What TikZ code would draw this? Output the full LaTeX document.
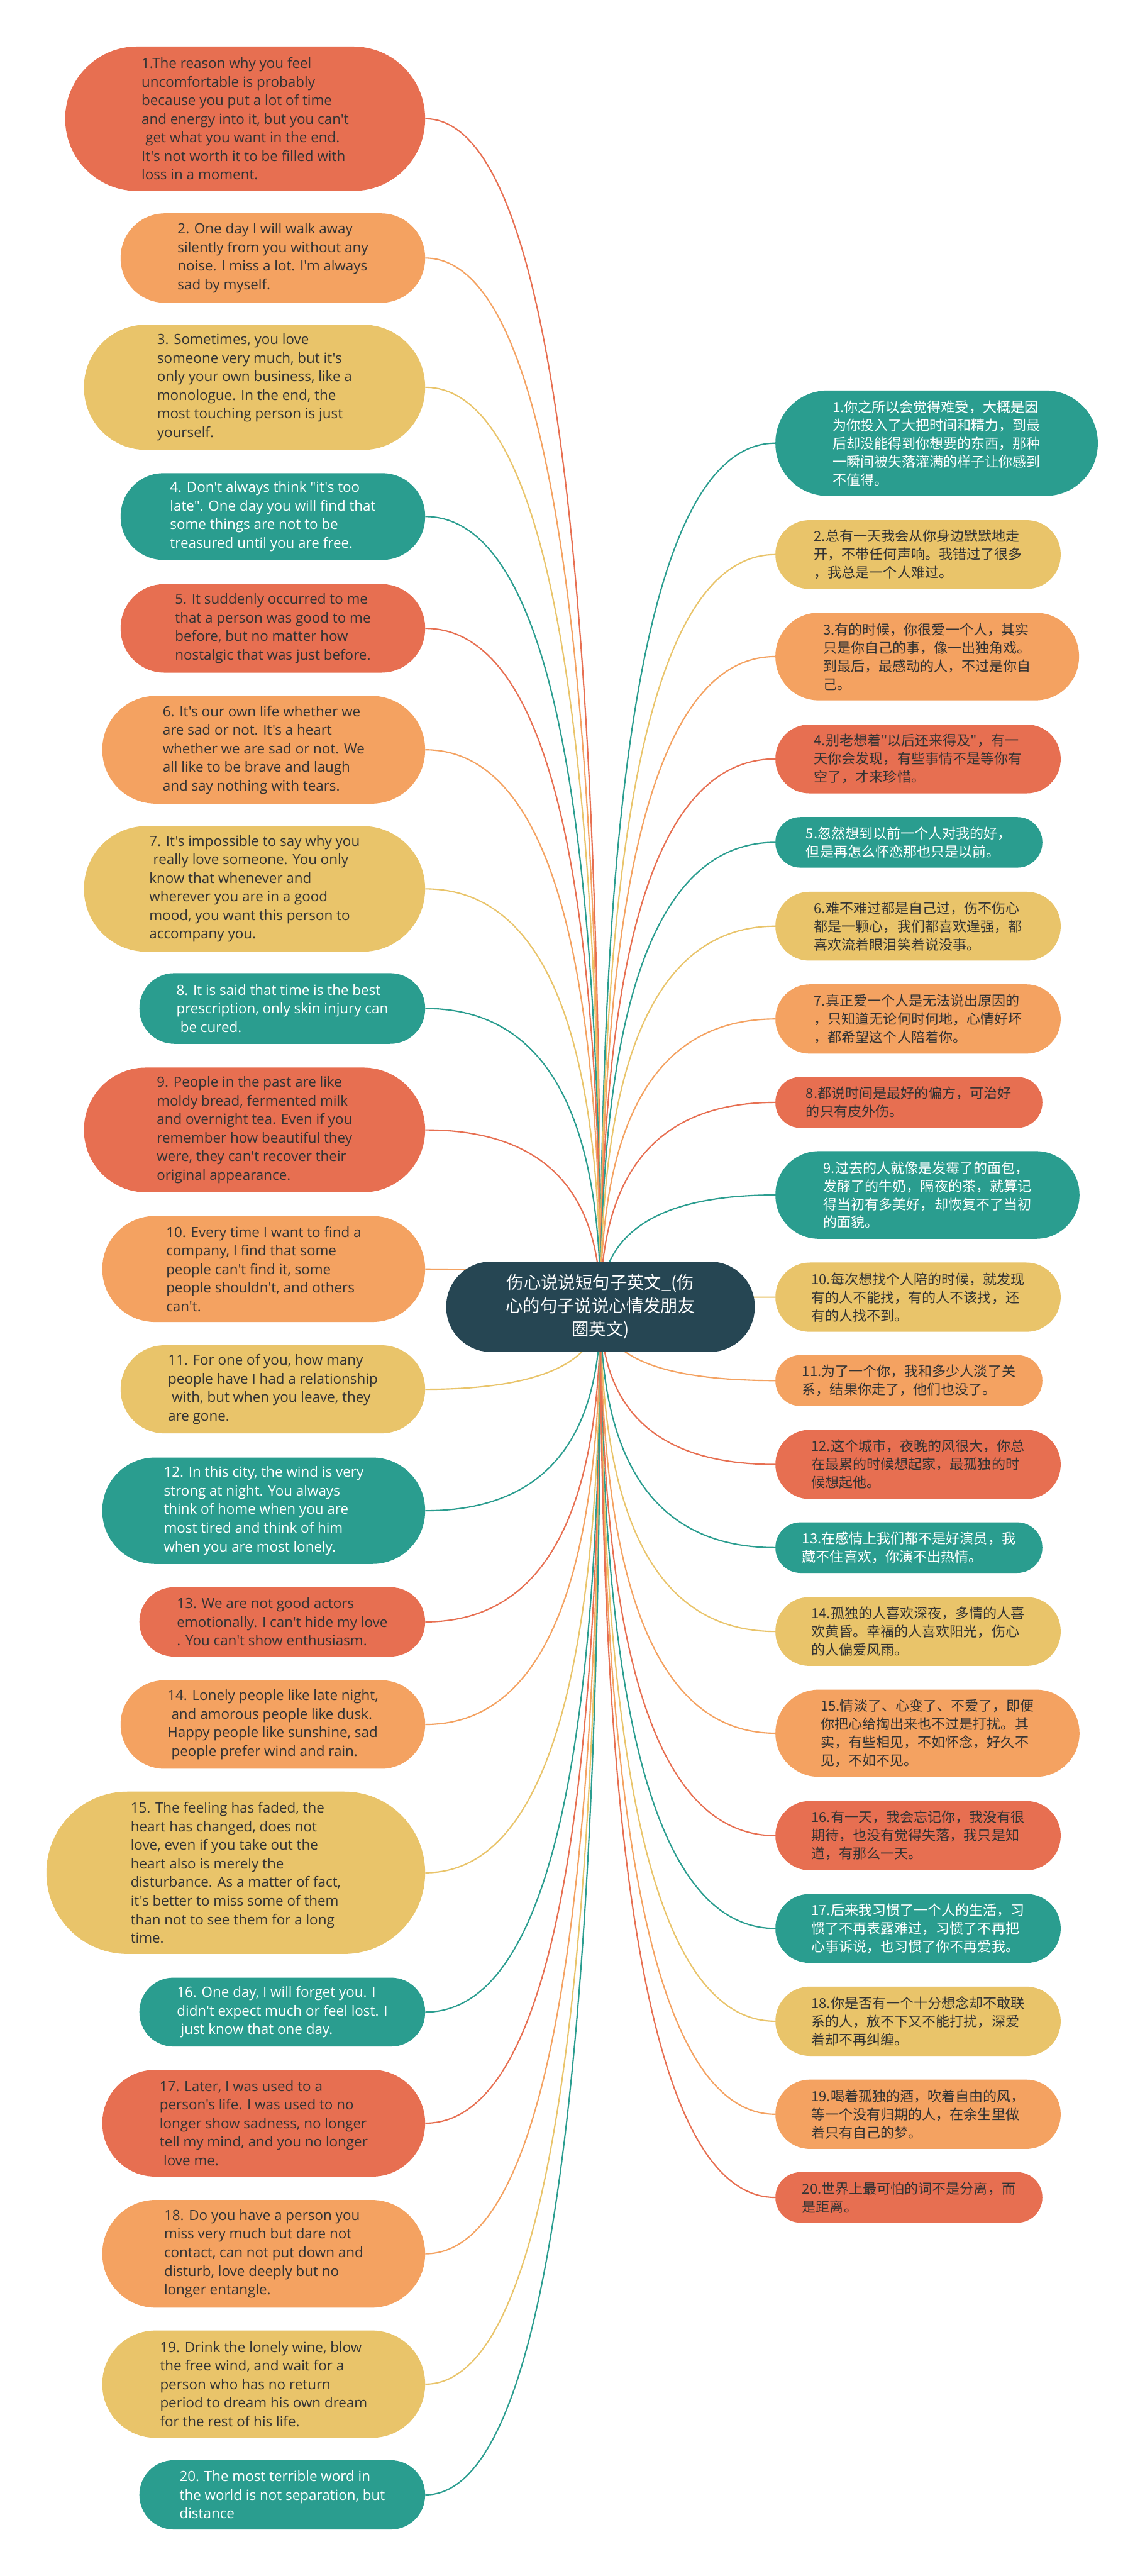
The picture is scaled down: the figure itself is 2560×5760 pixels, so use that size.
\documentclass[tikz,border=0pt]{standalone}
\usepackage{fontspec}
\newfontfamily\latinfont{Open Sans}
\newfontfamily\cjkfont{Noto Sans CJK SC}
\usetikzlibrary{calc}
\definecolor{cteal}{HTML}{2A9D8F}
\definecolor{cyellow}{HTML}{E9C46A}
\definecolor{corange}{HTML}{F4A261}
\definecolor{cred}{HTML}{E76F51}
\definecolor{cdark}{HTML}{264653}
\definecolor{ctext}{HTML}{333333}
\pgfdeclarelayer{bg}
\pgfsetlayers{bg,main}
\begin{document}
\begin{tikzpicture}[x=1pt,y=-1pt,
  base/.style={inner sep=0pt, align=left, text=ctext},
  en/.style={base, font=\latinfont\fontsize{31.5}{41.5}\selectfont},
  zh/.style={base, font=\cjkfont\fontsize{31}{40.7}\selectfont},
  pill/.style n args={3}{minimum width=#1pt, minimum height=#2pt, rounded corners=#3pt},
  lt/.style={anchor=east},
  rt/.style={anchor=west},
  onteal/.style={fill=cteal, text=white},
  conn/.style={line width=3pt}
]
\useasboundingbox (0,0) rectangle (2560,5760);

% center
\node[pill={690}{202}{100}, fill=cdark, text=white, align=center, inner sep=0pt,
  font=\cjkfont\fontsize{38.5}{52}\selectfont] (C) at (1343,2922)
  {伤心说说短句子英文\_(伤\\心的句子说说心情发朋友\\圈英文)};

% left nodes
\node[en, lt, pill={805}{323}{161}, fill=cred] (L1) at (951,265.5) {1.The reason why you feel\\uncomfortable is probably\\because you put a lot of time\\and energy into it, but you can't\\\hspace*{.28em}get what you want in the end.\\It's not worth it to be filled with\\loss in a moment.};
\node[en, lt, pill={681}{200}{99}, fill=corange] (L2) at (951,577) {2. One day I will walk away\\silently from you without any\\noise. I miss a lot. I'm always\\sad by myself.};
\node[en, lt, pill={763}{280}{139}, fill=cyellow] (L3) at (951,866) {3. Sometimes, you love\\someone very much, but it's\\only your own business, like a\\monologue. In the end, the\\most touching person is just\\yourself.};
\node[en, lt, pill={681}{194}{96}, onteal] (L4) at (951,1155) {4. Don't always think "it's too\\late". One day you will find that\\some things are not to be\\treasured until you are free.};
\node[en, lt, pill={681}{198}{98}, fill=cred] (L5) at (951,1405) {5. It suddenly occurred to me\\that a person was good to me\\before, but no matter how\\nostalgic that was just before.};
\node[en, lt, pill={722}{241}{120}, fill=corange] (L6) at (951,1676.5) {6. It's our own life whether we\\are sad or not. It's a heart\\whether we are sad or not. We\\all like to be brave and laugh\\and say nothing with tears.};
\node[en, lt, pill={763}{281}{140}, fill=cyellow] (L7) at (951,1987.5) {7. It's impossible to say why you\\\hspace*{.28em}really love someone. You only\\know that whenever and\\wherever you are in a good\\mood, you want this person to\\accompany you.};
\node[en, lt, pill={639}{158}{78}, onteal] (L8) at (951,2255) {8. It is said that time is the best\\prescription, only skin injury can\\\hspace*{.28em}be cured.};
\node[en, lt, pill={763}{279}{139}, fill=cred] (L9) at (951,2526.5) {9. People in the past are like\\moldy bread, fermented milk\\and overnight tea. Even if you\\remember how beautiful they\\were, they can't recover their\\original appearance.};
\node[en, lt, pill={722}{237}{118}, fill=corange] (L10) at (951,2837.5) {10. Every time I want to find a\\company, I find that some\\people can't find it, some\\people shouldn't, and others\\can't.};
\node[en, lt, pill={681}{197}{98}, fill=cyellow] (L11) at (951,3106.5) {11. For one of you, how many\\people have I had a relationship\\\hspace*{.28em}with, but when you leave, they\\are gone.};
\node[en, lt, pill={722}{238}{118}, onteal] (L12) at (951,3378) {12. In this city, the wind is very\\strong at night. You always\\think of home when you are\\most tired and think of him\\when you are most lonely.};
\node[en, lt, pill={639}{155}{77}, fill=cred] (L13) at (951,3626.5) {13. We are not good actors\\emotionally. I can't hide my love\\. You can't show enthusiasm.};
\node[en, lt, pill={681}{198}{98}, fill=corange] (L14) at (951,3856) {14. Lonely people like late night,\\\hspace*{.28em}and amorous people like dusk.\\Happy people like sunshine, sad\\\hspace*{.28em}people prefer wind and rain.};
\node[en, lt, pill={847}{363}{181}, fill=cyellow] (L15) at (951,4187.5) {15. The feeling has faded, the\\heart has changed, does not\\love, even if you take out the\\heart also is merely the\\disturbance. As a matter of fact,\\it's better to miss some of them\\than not to see them for a long\\time.};
\node[en, lt, pill={639}{154}{76}, onteal] (L16) at (951,4499) {16. One day, I will forget you. I\\didn't expect much or feel lost. I\\\hspace*{.28em}just know that one day.};
\node[en, lt, pill={722}{239}{119}, fill=cred] (L17) at (951,4747.5) {17. Later, I was used to a\\person's life. I was used to no\\longer show sadness, no longer\\tell my mind, and you no longer\\\hspace*{.28em}love me.};
\node[en, lt, pill={722}{241}{120}, fill=corange] (L18) at (951,5039.5) {18. Do you have a person you\\miss very much but dare not\\contact, can not put down and\\disturb, love deeply but no\\longer entangle.};
\node[en, lt, pill={722}{240}{119}, fill=cyellow] (L19) at (951,5331) {19. Drink the lonely wine, blow\\the free wind, and wait for a\\person who has no return\\period to dream his own dream\\for the rest of his life.};
\node[en, lt, pill={639}{155}{77}, onteal] (L20) at (951,5578.5) {20. The most terrible word in\\the world is not separation, but\\distance};

% right nodes
\node[zh, rt, pill={721}{236}{117}, onteal] (R1) at (1734,991) {1.你之所以会觉得难受，大概是因\\为你投入了大把时间和精力，到最\\后却没能得到你想要的东西，那种\\一瞬间被失落灌满的样子让你感到\\不值得。};
\node[zh, rt, pill={638}{154}{76}, fill=cyellow] (R2) at (1734,1240) {2.总有一天我会从你身边默默地走\\开，不带任何声响。我错过了很多\\，我总是一个人难过。};
\node[zh, rt, pill={679}{196}{97}, fill=corange] (R3) at (1734,1468) {3.有的时候，你很爱一个人，其实\\只是你自己的事，像一出独角戏。\\到最后，最感动的人，不过是你自\\己。};
\node[zh, rt, pill={638}{154}{76}, fill=cred] (R4) at (1734,1697) {4.别老想着"以后还来得及"，有一\\天你会发现，有些事情不是等你有\\空了，才来珍惜。};
\node[zh, rt, pill={597}{113}{56}, onteal] (R5) at (1734,1883.5) {5.忽然想到以前一个人对我的好，\\但是再怎么怀恋那也只是以前。};
\node[zh, rt, pill={638}{154}{76}, fill=cyellow] (R6) at (1734,2071) {6.难不难过都是自己过，伤不伤心\\都是一颗心，我们都喜欢逞强，都\\喜欢流着眼泪笑着说没事。};
\node[zh, rt, pill={638}{155}{77}, fill=corange] (R7) at (1734,2278.5) {7.真正爱一个人是无法说出原因的\\，只知道无论何时何地，心情好坏\\，都希望这个人陪着你。};
\node[zh, rt, pill={597}{114}{56}, fill=cred] (R8) at (1734,2465) {8.都说时间是最好的偏方，可治好\\的只有皮外伤。};
\node[zh, rt, pill={680}{196}{97}, onteal] (R9) at (1734,2672) {9.过去的人就像是发霉了的面包，\\发酵了的牛奶，隔夜的茶，就算记\\得当初有多美好，却恢复不了当初\\的面貌。};
\node[zh, rt, pill={638}{155}{77}, fill=cyellow] (R10) at (1734,2900.5) {10.每次想找个人陪的时候，就发现\\有的人不能找，有的人不该找，还\\有的人找不到。};
\node[zh, rt, pill={597}{114}{56}, fill=corange] (R11) at (1734,3087) {11.为了一个你，我和多少人淡了关\\系，结果你走了，他们也没了。};
\node[zh, rt, pill={638}{155}{77}, fill=cred] (R12) at (1734,3274.5) {12.这个城市，夜晚的风很大，你总\\在最累的时候想起家，最孤独的时\\候想起他。};
\node[zh, rt, pill={597}{113}{56}, onteal] (R13) at (1734,3460.5) {13.在感情上我们都不是好演员，我\\藏不住喜欢，你演不出热情。};
\node[zh, rt, pill={638}{154}{76}, fill=cyellow] (R14) at (1734,3648) {14.孤独的人喜欢深夜，多情的人喜\\欢黄昏。幸福的人喜欢阳光，伤心\\的人偏爱风雨。};
\node[zh, rt, pill={680}{195}{97}, fill=corange] (R15) at (1734,3875.5) {15.情淡了、心变了、不爱了，即便\\你把心给掏出来也不过是打扰。其\\实，有些相见，不如怀念，好久不\\见，不如不见。};
\node[zh, rt, pill={638}{155}{77}, fill=cred] (R16) at (1734,4104.5) {16.有一天，我会忘记你，我没有很\\期待，也没有觉得失落，我只是知\\道，有那么一天。};
\node[zh, rt, pill={638}{154}{76}, onteal] (R17) at (1734,4312) {17.后来我习惯了一个人的生活，习\\惯了不再表露难过，习惯了不再把\\心事诉说，也习惯了你不再爱我。};
\node[zh, rt, pill={638}{155}{77}, fill=cyellow] (R18) at (1734,4519.5) {18.你是否有一个十分想念却不敢联\\系的人，放不下又不能打扰，深爱\\着却不再纠缠。};
\node[zh, rt, pill={638}{155}{77}, fill=corange] (R19) at (1734,4727.5) {19.喝着孤独的酒，吹着自由的风，\\等一个没有归期的人，在余生里做\\着只有自己的梦。};
\node[zh, rt, pill={597}{113}{56}, fill=cred] (R20) at (1734,4913.5) {20.世界上最可怕的词不是分离，而\\是距离。};

\begin{pgfonlayer}{bg}
\fill[white] (0,0) rectangle (2560,5760);
\foreach \i/\c in {1/cred,2/corange,3/cyellow,4/cteal,5/cred,6/corange,7/cyellow,8/cteal,9/cred,10/corange,11/cyellow,12/cteal,13/cred,14/corange,15/cyellow,16/cteal,17/cred,18/corange,19/cyellow,20/cteal}{
  \coordinate (K) at (C.center |- L\i.east);
  \draw[conn, draw=\c] (C.center) .. controls ($(C.center)!0.6667!(K)$) and ($(L\i.east)!0.6667!(K)$) .. (L\i.east);
}
\foreach \i/\c in {1/cteal,2/cyellow,3/corange,4/cred,5/cteal,6/cyellow,7/corange,8/cred,9/cteal,10/cyellow,11/corange,12/cred,13/cteal,14/cyellow,15/corange,16/cred,17/cteal,18/cyellow,19/corange,20/cred}{
  \coordinate (K) at (C.center |- R\i.west);
  \draw[conn, draw=\c] (C.center) .. controls ($(C.center)!0.6667!(K)$) and ($(R\i.west)!0.6667!(K)$) .. (R\i.west);
}
\end{pgfonlayer}
\end{tikzpicture}
\end{document}
